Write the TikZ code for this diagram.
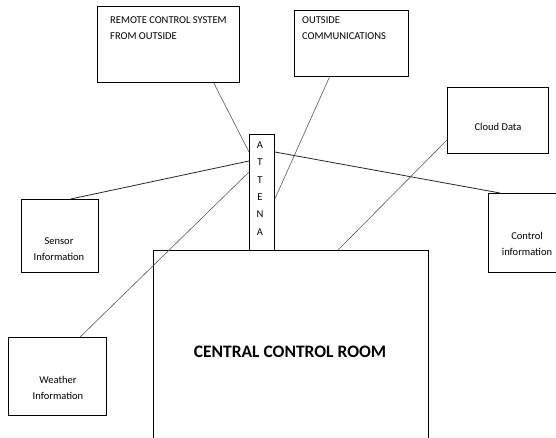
\documentclass[tikz,border=0pt]{standalone}
\usepackage{fontspec}
\setmainfont{Carlito}
\usetikzlibrary{positioning,calc}

\tikzset{
	box/.style={draw, line width=0.8pt, inner sep=0pt, anchor=north west},
	txt/.style={font=\fontsize{10.5}{16}\selectfont, align=center, inner sep=0pt},
	link/.style={draw=black!65, line width=0.6pt},
	darklink/.style={draw=black!85, line width=0.8pt}
}

\begin{document}
\begin{tikzpicture}[x=1pt,y=-1pt]
		\useasboundingbox (0,0) rectangle (556,438);
		% boxes
		\node[box, minimum width=142pt, minimum height=76pt] (remote) at (97,6) {};
		\node[box, minimum width=114pt, minimum height=66pt] (outside) at (294,10) {};
		\node[box, minimum width=101pt, minimum height=66pt] (cloud) at (447,87) {};
		\node[box, minimum width=80pt, minimum height=79pt] (control) at (488,193) {};
		\node[box, minimum width=77pt, minimum height=73pt] (sensor) at (21,199) {};
		\node[box, minimum width=98pt, minimum height=78pt] (weather) at (8,337) {};
		\node[box, minimum width=25pt, minimum height=116pt] (ant) at (249,134) {};
		\node[box, minimum width=275pt, minimum height=200pt] (room) at (153,250) {};
		% texts
		\node[txt, align=left, anchor=north west] (remotetxt) at ($(remote.north west)+(13,10)$) {REMOTE CONTROL SYSTEM\\FROM OUTSIDE};
		\node[txt, align=left, anchor=north west] (outsidetxt) at ($(outside.north west)+(8,6.5)$) {OUTSIDE\\COMMUNICATIONS};
		\node[txt] (cloudtxt) at (498,127) {Cloud Data};
		\node[txt] (controltxt) at (527,244) {Control\\information};
		\node[txt] (sensortxt) at (59,249) {Sensor\\Information};
		\node[txt] (weathertxt) at (58,388) {Weather\\Information};
		\node[font=\fontsize{17.5}{20}\selectfont\bfseries, inner sep=0pt] (roomtxt) at (290,352) {CENTRAL CONTROL ROOM};
		\foreach \l [count=\i] in {A,T,T,E,N,A}
			\node[txt] (ant\i) at ($(ant.north)+(-2,{11+17.4*(\i-1)})$) {\l};
		% links to the antenna
		\draw[link] ($(remote.south west)!0.817!(remote.south east)$) -- ($(ant.north west)+(0,18)$);
		\draw[link] ($(outside.south west)!0.31!(outside.south east)$) -- ($(ant.north east)+(0,65)$);
		\draw[darklink] ($(sensor.north west)!0.64!(sensor.north east)$) -- ($(ant.north west)+(0,27)$);
		\draw[link] ($(weather.north west)!0.73!(weather.north east)$) -- ($(ant.north west)+(0,38)$);
		\draw[darklink] ($(ant.north east)+(0,18)$) -- ($(control.north west)+(12,0)$);
		\draw[link] ($(cloud.north west)+(0,53)$) -- ($(room.north west)+(185,0)$);
\end{tikzpicture}
\end{document}
